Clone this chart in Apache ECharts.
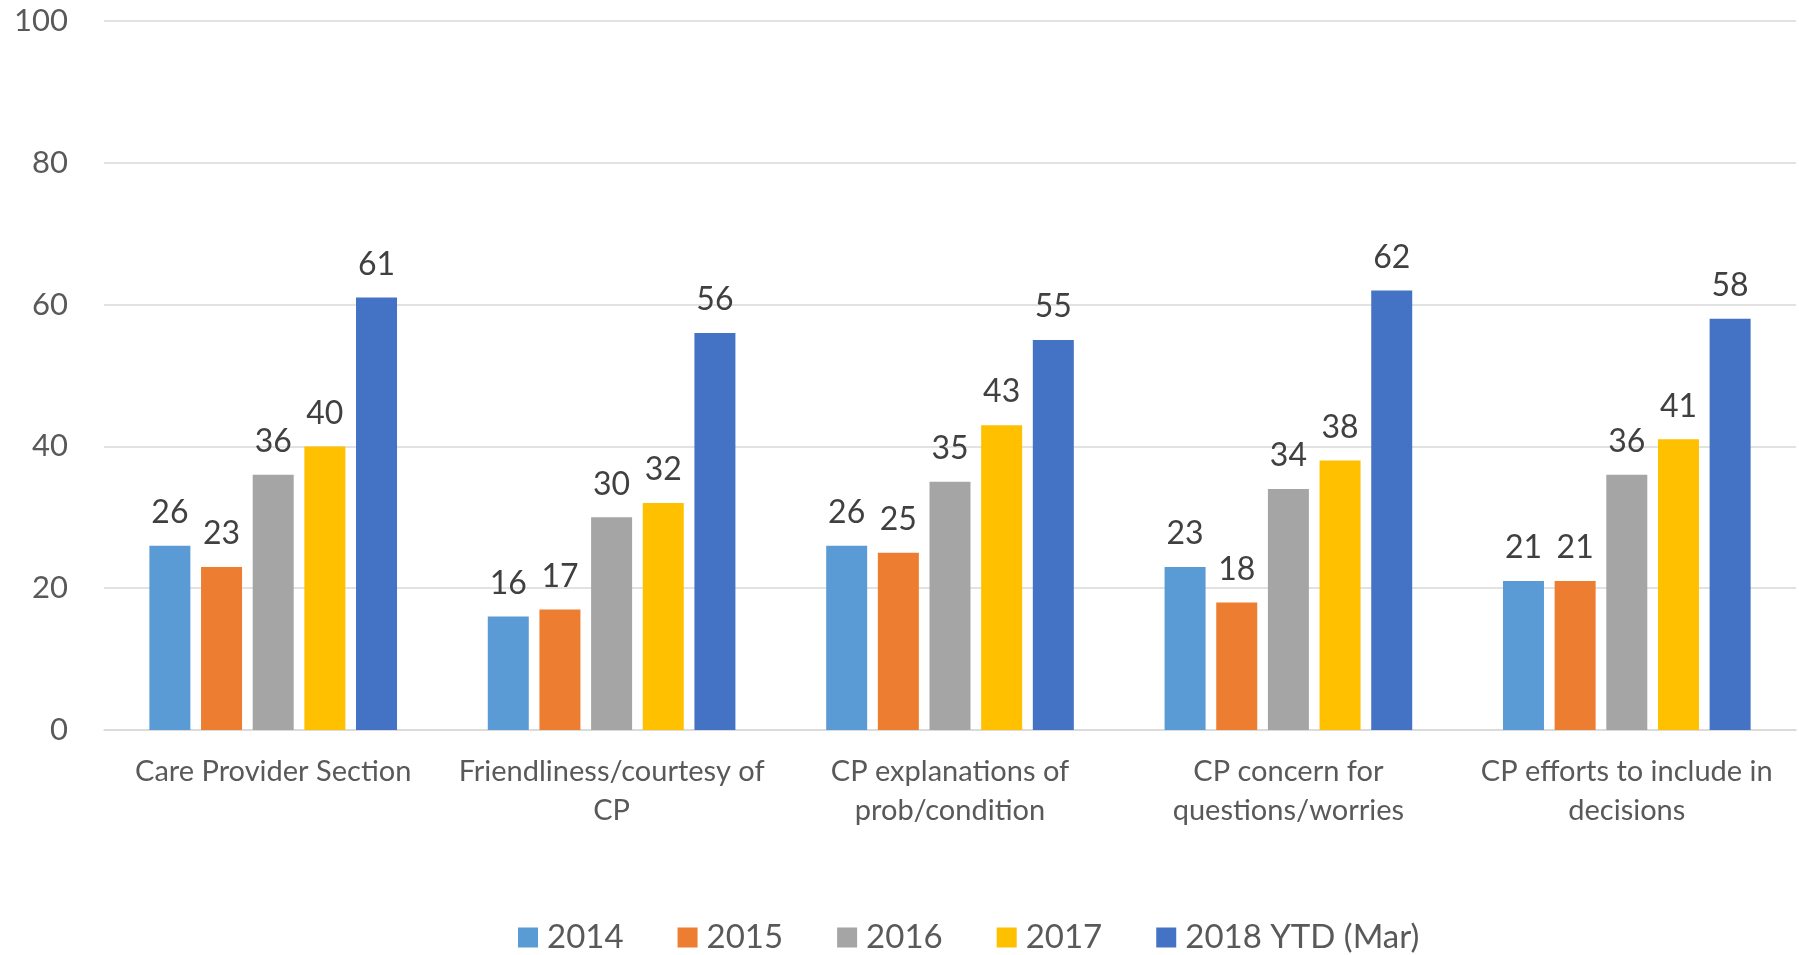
<!DOCTYPE html>
<html>
<head>
<meta charset="utf-8">
<script src="https://cdn.jsdelivr.net/npm/echarts@6/dist/echarts.min.js"></script>
<style>
  html, body { margin: 0; padding: 0; background: #fff; }
  #chart { width: 1799px; height: 955px; }
</style>
</head>
<body>
<div id="chart"></div>
<script>
// categories (line breaks as in the source labels)
const categories = [
  'Care Provider Section',
  'Friendliness/courtesy of\nCP',
  'CP explanations of\nprob/condition',
  'CP concern for\nquestions/worries',
  'CP efforts to include in\ndecisions'
]
const seriesNames = ['2014', '2015', '2016', '2017', '2018 YTD (Mar)']
const values2014 = [26, 16, 26, 23, 21]
const values2015 = [23, 17, 25, 18, 21]
const values2016 = [36, 30, 35, 34, 36]
const values2017 = [40, 32, 43, 38, 41]
const values2018 = [61, 56, 55, 62, 58]
const yTicks = [0, 20, 40, 60, 80, 100]

const colors = ['#5B9BD5', '#ED7D31', '#A5A5A5', '#FFC000', '#4472C4']
const allValues = [values2014, values2015, values2016, values2017, values2018]
const font = 'Lato, "Open Sans", sans-serif'

const chart = echarts.init(document.getElementById('chart'))

chart.setOption({
  animation: false,
  color: colors,
  textStyle: { fontFamily: font },
  grid: {
    left: 104,
    right: 3,
    top: 21,
    bottom: 225
  },
  legend: {
    data: seriesNames,
    left: 513,
    top: 916,
    icon: 'rect',
    itemWidth: 20,
    itemHeight: 20,
    itemGap: 54,
    textStyle: {
      color: '#595959',
      fontSize: 33,
      fontFamily: font,
      padding: [0, 0, 0, 4]
    }
  },
  xAxis: {
    type: 'category',
    data: categories,
    axisLine: { lineStyle: { color: '#D9D9D9', width: 1.5 } },
    axisTick: { show: false },
    axisLabel: {
      color: '#595959',
      fontSize: 29,
      lineHeight: 39,
      margin: 22,
      interval: 0,
      fontFamily: font
    }
  },
  yAxis: {
    type: 'value',
    min: yTicks[0],
    max: yTicks[yTicks.length - 1],
    interval: 20,
    axisLine: { show: false },
    axisTick: { show: false },
    splitLine: { lineStyle: { color: '#D9D9D9', width: 1.5 } },
    axisLabel: {
      color: '#595959',
      fontSize: 31,
      margin: 36,
      fontFamily: font
    }
  },
  series: seriesNames.map((name, i) => ({
    name: name,
    type: 'bar',
    data: allValues[i],
    barWidth: 41,
    barGap: '26%',
    itemStyle: { color: colors[i] },
    label: {
      show: true,
      position: 'top',
      distance: 17,
      color: '#404040',
      fontSize: 32,
      fontFamily: font
    }
  }))
})
</script>
</body>
</html>
